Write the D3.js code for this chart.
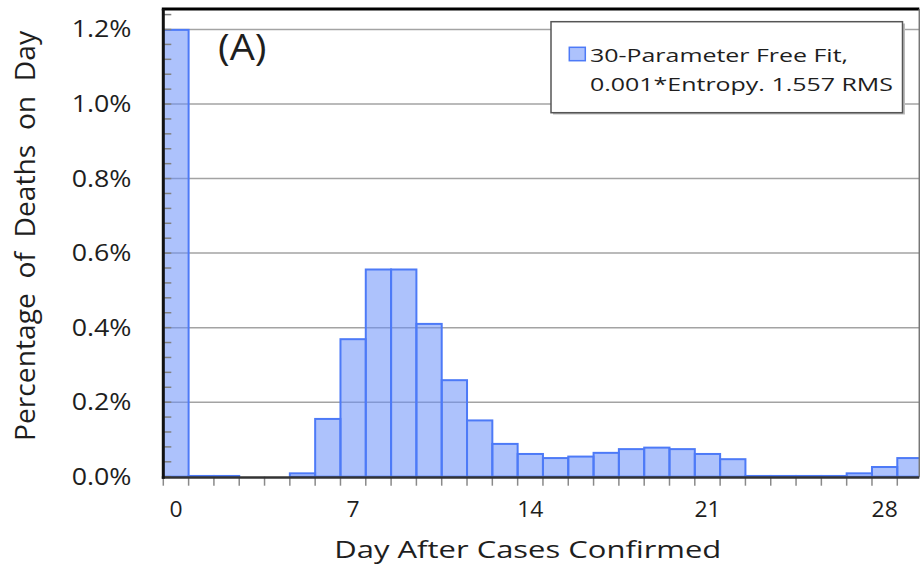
<!DOCTYPE html>
<html><head><meta charset="utf-8">
<script src="https://cdn.jsdelivr.net/npm/d3@7/dist/d3.min.js"></script>
<style>body{margin:0;background:#fff}svg{display:block}text{font-family:"Open Sans",sans-serif;fill:#1e1e1e;white-space:pre}</style>
</head><body><svg id="c" width="920" height="566"></svg>
<script>
const days = d3.range(0, 30);
const deathPct = [1.199, 0.002, 0.002, 0, 0, 0.009, 0.155, 0.369, 0.556, 0.556, 0.41, 0.259, 0.151, 0.088,
  0.061, 0.050, 0.054, 0.064, 0.074, 0.078, 0.074, 0.061, 0.047, 0.002, 0.002, 0.002, 0.002, 0.009, 0.026, 0.050];
const xTickLabels = [0, 7, 14, 21, 28];
const yTicks = [0, 0.2, 0.4, 0.6, 0.8, 1.0, 1.2];
const legendLines = ["30-Parameter Free Fit,", "0.001*Entropy. 1.557 RMS"];
const xTitle = "Day After Cases Confirmed";
const yTitle = "Percentage  of  Deaths  on  Day";
const panelLabel = "(A)";

const svg = d3.select("#c");
const L = 163.3, R = 919.3, T = 9, B = 476.7;
const x = d3.scaleBand().domain(days).range([L, L + 30 * 25.31]).paddingInner(0).paddingOuter(0);
const y = d3.scaleLinear().domain([0, 1.255]).range([B, T]);

svg.append("defs").append("clipPath").attr("id", "pc")
  .append("rect").attr("x", L).attr("y", 0).attr("width", R - L).attr("height", B + 2);

// gridlines
svg.append("g").selectAll("line").data(yTicks.filter(d => d > 0)).join("line")
  .attr("x1", L).attr("x2", R).attr("y1", d => y(d)).attr("y2", d => y(d))
  .attr("stroke", "#a3a3a3").attr("stroke-width", 1.5);

// bars
svg.append("g").attr("clip-path", "url(#pc)").selectAll("rect").data(days).join("rect")
  .attr("x", d => x(d)).attr("width", x.bandwidth())
  .attr("y", d => y(deathPct[d])).attr("height", d => y(0) - y(deathPct[d]))
  .attr("fill", "rgba(106,144,250,0.55)").attr("stroke", "#4d7af7").attr("stroke-width", 2);

// minor ticks on y axis (inside)
const minor = d3.range(0, 1.2501, 0.04);
svg.append("g").selectAll("line").data(minor).join("line")
  .attr("x1", L).attr("x2", L + 8).attr("y1", d => y(d)).attr("y2", d => y(d))
  .attr("stroke", "#808080").attr("stroke-width", 1.5);

// x ticks at band boundaries
const bounds = days.map(d => x(d));
svg.append("g").selectAll("line").data(bounds).join("line")
  .attr("x1", d => d).attr("x2", d => d).attr("y1", B).attr("y2", B + 9)
  .attr("stroke", "#8a8a8a").attr("stroke-width", 1.5);

// frame
svg.append("line").attr("x1", L - 1.5).attr("x2", R).attr("y1", T).attr("y2", T).attr("stroke", "#000").attr("stroke-width", 3);
svg.append("line").attr("x1", R).attr("x2", R).attr("y1", T).attr("y2", B).attr("stroke", "#777").attr("stroke-width", 1.5);
svg.append("line").attr("x1", L - 1.5).attr("x2", R).attr("y1", B + 0.8).attr("y2", B + 0.8).attr("stroke", "#333").attr("stroke-width", 2.5);
svg.append("line").attr("x1", L).attr("x2", L).attr("y1", T).attr("y2", B + 2).attr("stroke", "#111").attr("stroke-width", 3);

// y tick labels
svg.append("g").selectAll("text").data(yTicks).join("text")
  .attr("transform", d => `translate(131.5,${y(d) + 8}) scale(1.165,1)`)
  .attr("text-anchor", "end").attr("font-size", 23)
  .text(d => d.toFixed(1) + "%");

// x tick labels
svg.append("g").selectAll("text").data(xTickLabels).join("text")
  .attr("transform", d => `translate(${x(d) + x.bandwidth() / 2},516.7) scale(1.09,1)`)
  .attr("text-anchor", "middle").attr("font-size", 21)
  .text(d => d);

// axis titles
svg.append("text").attr("x", 334.3).attr("y", 558.3).attr("font-size", 23.3)
  .attr("textLength", 387).attr("lengthAdjust", "spacingAndGlyphs").text(xTitle);
svg.append("g").attr("transform", "translate(35,236) scale(1.17,1)")
  .append("text").attr("transform", "rotate(-90)").attr("text-anchor", "middle").attr("x", 0).attr("y", 0)
  .attr("font-size", 24).attr("textLength", 410).attr("lengthAdjust", "spacingAndGlyphs").text(yTitle);

// panel label
svg.append("text").attr("x", 218).attr("y", 60).attr("font-size", 36.5)
  .attr("textLength", 48.5).attr("lengthAdjust", "spacingAndGlyphs").text(panelLabel);

// legend
const lg = svg.append("g");
lg.append("rect").attr("x", 553).attr("y", 23.5).attr("width", 352).attr("height", 91).attr("fill", "#bbb");
lg.append("rect").attr("x", 551).attr("y", 21.7).attr("width", 351.5).attr("height", 91)
  .attr("fill", "#fff").attr("stroke", "#555").attr("stroke-width", 1.5);
lg.append("rect").attr("x", 569.3).attr("y", 47.3).attr("width", 16).attr("height", 13.4)
  .attr("fill", "rgba(106,144,250,0.55)").attr("stroke", "#4d7af7").attr("stroke-width", 1.5);
const lens = [258, 303], bls = [61.7, 90.7];
lg.selectAll("text.l").data(legendLines).join("text").attr("class", "l")
  .attr("x", 590).attr("y", (d, i) => bls[i]).attr("font-size", 18)
  .attr("textLength", (d, i) => lens[i]).attr("lengthAdjust", "spacingAndGlyphs").text(d => d);
</script></body></html>
